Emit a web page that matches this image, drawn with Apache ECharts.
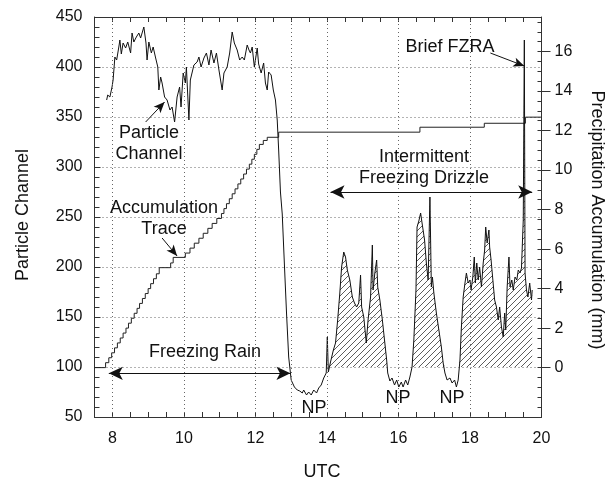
<!DOCTYPE html>
<html><head><meta charset="utf-8">
<script src="https://cdn.jsdelivr.net/npm/echarts@6/dist/echarts.min.js"></script>
<style>html,body{margin:0;padding:0;background:#fff}#c{width:610px;height:482px}</style>
</head><body><div id="c"></div>
<script>
// ---- data ----
const pcTime = [7.84,7.87,7.93,7.99,8.02,8.07,8.12,8.18,8.21,8.25,8.30,8.37,8.43,8.51,8.55,8.60,8.67,8.74,8.79,8.88,8.94,8.97,9.02,9.09,9.14,9.21,9.27,9.30,9.35,9.39,9.46,9.53,9.61,9.67,9.74,9.81,9.88,9.92,9.98,10.04,10.07,10.14,10.18,10.28,10.37,10.42,10.48,10.56,10.63,10.70,10.76,10.84,10.91,10.98,11.07,11.12,11.21,11.28,11.35,11.41,11.49,11.56,11.63,11.69,11.77,11.82,11.86,11.91,11.97,12.05,12.09,12.16,12.23,12.28,12.33,12.37,12.44,12.50,12.56,12.61,12.65,12.70,12.75,12.81,12.87,12.93,13.00,13.09,13.17,13.24,13.31,13.35,13.43,13.49,13.56,13.63,13.71,13.77,13.84,13.91,13.98,14.01,14.04,14.10,14.18,14.24,14.30,14.36,14.41,14.47,14.52,14.57,14.64,14.71,14.77,14.83,14.89,14.94,14.97,15.03,15.10,15.15,15.22,15.27,15.29,15.34,15.39,15.42,15.48,15.55,15.61,15.67,15.70,15.76,15.82,15.89,15.95,16.01,16.08,16.13,16.20,16.26,16.32,16.38,16.43,16.49,16.52,16.57,16.62,16.66,16.73,16.78,16.83,16.88,16.92,16.95,16.99,17.06,17.13,17.20,17.25,17.30,17.36,17.44,17.50,17.57,17.62,17.67,17.72,17.76,17.81,17.86,17.90,17.95,18.00,18.03,18.08,18.12,18.15,18.19,18.23,18.27,18.32,18.37,18.41,18.44,18.48,18.53,18.55,18.59,18.64,18.69,18.74,18.79,18.83,18.88,18.93,18.97,19.00,19.04,19.09,19.12,19.17,19.21,19.26,19.31,19.35,19.40,19.44,19.49,19.52,19.54,19.58,19.62,19.67,19.72,19.74];
const pcValue = [367,372,370,380,387,410,407,420,427,413,424,419,425,414,434,425,430,434,429,440,424,407,425,414,420,409,400,377,390,384,370,367,357,360,345,370,380,360,394,384,400,347,387,402,405,410,400,409,414,402,417,404,414,397,377,394,400,414,435,424,417,407,410,407,422,417,414,420,400,419,403,394,404,384,377,395,392,377,367,347,317,275,253,203,154,110,87,80,77,76,74,77,72,75,72,77,74,79,82,89,94,130,95,105,117,124,147,174,200,215,210,197,187,170,164,160,164,192,160,150,124,147,170,222,177,194,207,180,167,147,127,107,94,86,89,82,87,80,85,80,87,82,90,100,127,177,240,246,254,244,227,204,187,270,180,190,174,154,137,120,104,94,87,89,84,87,80,87,107,140,170,184,194,184,187,177,190,210,184,204,187,200,180,204,217,240,224,237,220,207,187,167,160,147,160,140,130,154,137,180,210,180,187,177,190,187,197,194,199,247,427,194,177,170,184,167,177];
const accTime = [7.5,7.81,7.90,7.98,8.06,8.14,8.22,8.30,8.38,8.45,8.53,8.61,8.69,8.76,8.84,8.92,9.00,9.07,9.15,9.23,9.31,9.63,9.70,10.04,10.17,10.29,10.42,10.54,10.67,10.79,10.92,11.05,11.12,11.19,11.27,11.35,11.43,11.51,11.59,11.67,11.75,11.83,11.90,11.97,12.04,12.11,12.22,12.33,12.65,16.6,18.4,19.55,20];
const accMM = [0,0.25,0.5,0.75,1.0,1.25,1.5,1.75,2.0,2.25,2.5,2.75,3.0,3.25,3.5,3.75,4.0,4.25,4.5,4.75,5.06,5.3,5.58,5.8,6.05,6.3,6.55,6.8,7.05,7.3,7.55,7.8,8.05,8.3,8.55,8.8,9.05,9.3,9.55,9.8,10.05,10.3,10.55,10.8,11.05,11.3,11.5,11.66,11.92,12.17,12.37,12.68,12.68];
const xTickLabels = [8,10,12,14,16,18,20];
const leftTickLabels = [50,100,150,200,250,300,350,400,450];
const rightTickLabels = [0,2,4,6,8,10,12,14,16];
const gridHours = [8,10,12,13,14,16,18];
const drizzleStart = 14.04;
const hatchBase = 100;

// ---- layout ----
const L = 94.5, R = 541.5, T = 17, B = 417;
const R_MIN = -2.5, R_MAX = 17.75;
const yOf = mm => T + (R_MAX - mm) / (R_MAX - R_MIN) * (B - T);
const y16 = yOf(rightTickLabels[rightTickLabels.length-1]), y0 = yOf(rightTickLabels[0]);
const FONT = '"Liberation Sans", Arial, Helvetica, sans-serif';
const AX = '#333';

function makeHatch(){
  const c = document.createElement('canvas'); c.width = 6; c.height = 6;
  const g = c.getContext('2d'); g.strokeStyle = '#333'; g.lineWidth = 0.8;
  g.beginPath(); g.moveTo(0,6); g.lineTo(6,0); g.moveTo(-1,1); g.lineTo(1,-1); g.moveTo(5,7); g.lineTo(7,5); g.stroke();
  return c;
}

const pcData = pcTime.map((t,i)=>[t, pcValue[i]]);
const hatchData = pcTime.map((t,i)=>[t, pcValue[i]]).filter(p=>p[0]>=drizzleStart).map(p=>[p[0], Math.max(p[1], hatchBase)]);
const accData = accTime.map((t,i)=>[t, accMM[i]]);

const gridLine = {color:'#666', width:1, type:[1,3]};
const arrowLS = {color:'#111', width:1, type:'solid'};
function arrow(a, b, size){ return [{coord:a, symbol:'none', lineStyle:arrowLS}, {coord:b, symbol:'arrow', symbolSize:size, lineStyle:arrowLS}]; }
function darrow(a, b, size){ return [{coord:a, symbol:'arrow', symbolSize:size, lineStyle:arrowLS}, {coord:b, symbol:'arrow', symbolSize:size, lineStyle:arrowLS}]; }

const txt = (text, x, y, extra) => Object.assign({type:'text', x, y, z:100, silent:true,
  style:{text, font:'18px ' + FONT, fill:'#111', align:'center', verticalAlign:'middle', lineHeight:21}}, extra||{});

const chart = echarts.init(document.getElementById('c'), null, {renderer:'canvas'});
chart.setOption({
  animation:false,
  textStyle:{fontFamily:FONT},
  grid:[
    {left:L, top:T, width:R-L, height:B-T, outerBoundsMode:'none'},
    {left:L, top:y16, width:R-L, height:y0-y16, outerBoundsMode:'none'}
  ],
  xAxis:[
    {gridIndex:0, type:'value', position:'bottom', min:7.5, max:20, interval:0.5,
     axisLine:{show:true, onZero:false, lineStyle:{color:AX}}, axisTick:{show:true, inside:true, length:5, lineStyle:{color:AX}},
     splitLine:{show:false},
     axisLabel:{margin:14, fontSize:16, color:'#111', fontFamily:FONT, formatter:v=>xTickLabels.includes(v)?String(v):''}},
    {gridIndex:0, type:'value', position:'top', min:7.5, max:20, interval:0.5,
     axisLine:{show:true, onZero:false, lineStyle:{color:AX}}, axisTick:{show:true, inside:true, length:5, lineStyle:{color:AX}},
     splitLine:{show:false}, axisLabel:{show:false}},
    {gridIndex:1, type:'value', min:7.5, max:20, show:false}
  ],
  yAxis:[
    {gridIndex:0, type:'value', position:'left', min:leftTickLabels[0], max:leftTickLabels[leftTickLabels.length-1], interval:50,
     axisLine:{show:true, onZero:false, lineStyle:{color:AX}}, axisTick:{show:true, inside:true, length:6, lineStyle:{color:AX}},
     minorTick:{show:true, splitNumber:5, length:5, lineStyle:{color:AX}},
     splitLine:{show:true, lineStyle:gridLine},
     axisLabel:{margin:12, fontSize:16, color:'#111', fontFamily:FONT}},
    {gridIndex:0, type:'value', position:'right', min:R_MIN, max:R_MAX, interval:0.5,
     axisLine:{show:true, onZero:false, lineStyle:{color:AX}}, axisTick:{show:true, inside:true, length:4, lineStyle:{color:AX}},
     splitLine:{show:false}, axisLabel:{show:false}},
    {gridIndex:1, type:'value', position:'right', min:rightTickLabels[0], max:rightTickLabels[rightTickLabels.length-1], interval:2,
     axisLine:{show:false, onZero:false}, axisTick:{show:true, inside:false, length:9, lineStyle:{color:AX}},
     splitLine:{show:false},
     axisLabel:{margin:13, fontSize:16, color:'#111', fontFamily:FONT}}
  ],
  series:[
    {type:'line', name:'acc', xAxisIndex:0, yAxisIndex:1, data:accData, step:'end', symbol:'none',
     lineStyle:{color:'#222', width:1}, silent:true,
     markLine:{silent:true, symbol:'none', label:{show:false}, lineStyle:gridLine,
       data:gridHours.map(h=>({xAxis:h}))}},
    {type:'line', name:'hatch', xAxisIndex:0, yAxisIndex:0, data:hatchData, symbol:'none', silent:true,
     lineStyle:{opacity:0, width:0}, areaStyle:{color:{image:makeHatch(), repeat:'repeat'}, opacity:1, origin:hatchBase}},
    {type:'line', name:'pc', xAxisIndex:0, yAxisIndex:0, data:pcData, symbol:'none', silent:true,
     lineStyle:{color:'#111', width:1},
     markLine:{silent:true, label:{show:false}, lineStyle:arrowLS,
       data:[
         darrow([7.90, 93.7],[12.98, 93.7],[10,14]),
         darrow([14.1, 275],[19.74, 275],[10,14]),
         arrow([8.93, 345],[9.46, 365],[7,11]),
         arrow([9.39, 229],[9.81, 211],[7,11]),
         arrow([18.57, 414],[19.52, 401],[7,11])
       ]}}
  ],
  graphic:[
    txt('Particle Channel', 23, 215, {rotation:Math.PI/2}),
    txt('Precipitation Accumulation (mm)', 597, 220, {rotation:-Math.PI/2}),
    txt('UTC', 322, 472),
    txt('Particle\nChannel', 149, 143.5),
    txt('Accumulation\nTrace', 164, 219),
    txt('Freezing Rain', 205, 352),
    txt('Intermittent\nFreezing Drizzle', 424, 167.5),
    txt('Brief FZRA', 450, 47),
    txt('NP', 314, 408),
    txt('NP', 398, 398),
    txt('NP', 452, 398)
  ]
});
</script>
</body></html>
